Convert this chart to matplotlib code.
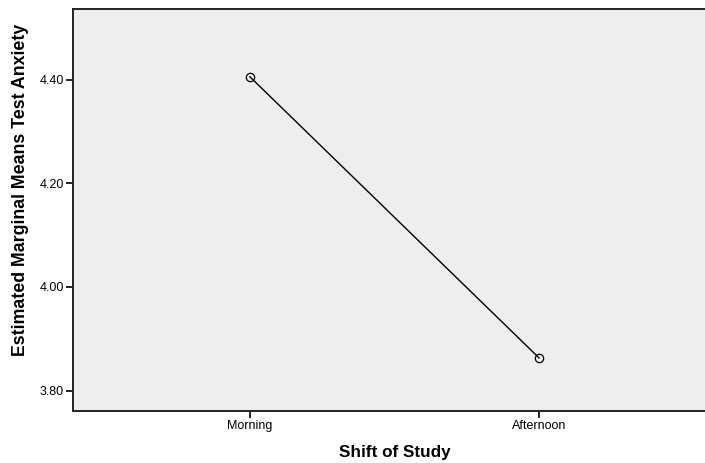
import matplotlib.pyplot as plt

shifts = ["Morning", "Afternoon"]
means = [4.406, 3.863]
y_ticks = [3.80, 4.00, 4.20, 4.40]

plt.rcParams["font.family"] = ["Liberation Sans", "DejaVu Sans"]

fig = plt.figure(figsize=(7.05, 4.63), dpi=100)
ax = fig.add_axes([73 / 705, 52.3 / 463, 632 / 705, 402.2 / 463])
ax.set_facecolor("#eeeeee")

x = range(len(shifts))
ax.plot(x, means, color="black", linewidth=1.0, marker="o", markersize=6,
        markerfacecolor="none", markeredgecolor="black", markeredgewidth=0.9)

ax.set_xlim(-0.612, 1.574)
ax.set_ylim(3.761, 4.538)
ax.set_xticks(list(x))
ax.set_xticklabels(shifts)
ax.set_yticks(y_ticks)
ax.set_yticklabels([f"{v:.2f}" for v in y_ticks])
ax.tick_params(axis="both", direction="out", length=5, width=1.2,
               labelsize=9, colors="black", pad=1.5)

for side in ["left", "bottom", "top"]:
    ax.spines[side].set_linewidth(1.4)
    ax.spines[side].set_color("#222222")
ax.spines["right"].set_visible(False)

fig.text(395 / 705, 1 - 452 / 463, "Shift of Study", ha="center", va="center",
         fontsize=12.3, fontweight="bold")
fig.text(21 / 705, 1 - 190 / 463, "Estimated Marginal Means Test Anxiety",
         ha="center", va="center", rotation=90, fontsize=12.8, fontweight="bold")

fig.savefig("out.png", dpi=100)
